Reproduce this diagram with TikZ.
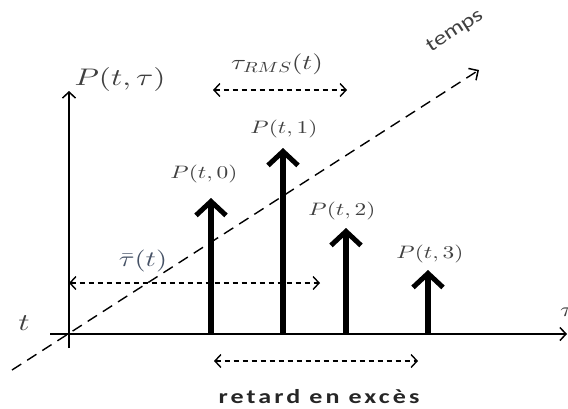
\documentclass[tikz,border=0pt]{standalone}
\usepackage{fontspec}
\DeclareFontShape{OML}{cmm}{m}{it}{<->cmmi10}{}
\DeclareFontShape{OT1}{cmr}{m}{n}{<->cmr10}{}
\DeclareFontShape{OMS}{cmsy}{m}{n}{<->cmsy10}{}
\newfontfamily\calib{Carlito}
\newfontfamily\calibsp[LetterSpace=12]{Carlito}
\usetikzlibrary{arrows.meta}
\definecolor{lab}{HTML}{404040}
\definecolor{labb}{HTML}{465266}
\newcommand{\wide}[1]{\scalebox{1.3}[1]{#1}}
\tikzset{
  axis/.style={line width=1.8pt, -{Straight Barb[length=6pt,width=13pt,line width=1.5pt]}},
  spike/.style={line width=6pt, -{Straight Barb[length=14pt,width=30pt,line width=5pt]}},
  dasharr/.style={line width=1.3pt, dash pattern=on 5pt off 4pt, {Straight Barb[length=6pt,width=13pt,line width=1.4pt]}-{Straight Barb[length=6pt,width=13pt,line width=1.4pt]}},
  lbl/.style={text=lab, inner sep=0pt, font=\fontsize{18}{20}\selectfont},
}
\begin{document}
\begin{tikzpicture}[x=1pt,y=-1pt]
\useasboundingbox (0,0) rectangle (568,408);
% coordinates
\coordinate (O) at (69,334);
\coordinate (ytop) at (69,91);
\coordinate (ybot) at (69,348);
\coordinate (xl) at (50,334);
\coordinate (xr) at (567,334);
\coordinate (d0) at (12,370);
\coordinate (d1) at (479,70);
% diagonal time axis
\draw[line width=1.4pt, dash pattern=on 11pt off 7pt, -{Straight Barb[length=7pt,width=14pt,line width=1.5pt]}] (d0) -- (d1);
\node[rotate=32.7, text=lab, inner sep=0pt, font=\calib\fontsize{20}{22}\selectfont] (temps) at (455,31) {\scalebox{1.25}[1]{temps}};
% axes
\draw[axis] (ybot) -- (ytop);
\draw[axis] (xl) -- (xr);
\node[lbl, font=\fontsize{24}{26}\selectfont] (Ptau) at (120,79) {\wide{$P(t,\tau)$}};
\node[lbl, font=\fontsize{24}{26}\selectfont] (tl) at (24,323) {\wide{$t$}};
\node[lbl, font=\fontsize{20}{22}\selectfont, anchor=west] (taur) at (560,312) {\wide{$\tau$}};
% spikes
\coordinate (b0) at (211,334); \coordinate (t0) at (211,198);
\coordinate (b1) at (283,334); \coordinate (t1) at (283,148);
\coordinate (b2) at (346,334); \coordinate (t2) at (346,228);
\coordinate (b3) at (428,334); \coordinate (t3) at (428,270);
\draw[spike] (b0) -- (t0);
\draw[spike] (b1) -- (t1);
\draw[spike] (b2) -- (t2);
\draw[spike] (b3) -- (t3);
\node[lbl] (P0) at (204,174) {\wide{$P(t,0)$}};
\node[lbl] (P1) at (284,129) {\wide{$P(t,1)$}};
\node[lbl] (P2) at (342,211) {\wide{$P(t,2)$}};
\node[lbl] (P3) at (430,254) {\wide{$P(t,3)$}};
% tau RMS
\coordinate (r0) at (213,90); \coordinate (r1) at (347,90);
\draw[dasharr] (r0) -- (r1);
\node[lbl, font=\fontsize{21}{23}\selectfont] (trms) at (277,64) {\wide{$\tau_{RMS}(t)$}};
% tau bar
\coordinate (m0) at (69,283); \coordinate (m1) at (320,283);
\draw[dasharr] (m0) -- (m1);
\node[text=labb, inner sep=0pt, font=\fontsize{22}{24}\selectfont] (tbar) at (143,261) {\wide{$\bar{\tau}(t)$}};
% retard
\coordinate (e0) at (214,361); \coordinate (e1) at (418,361);
\draw[dasharr] (e0) -- (e1);
\node[inner sep=0pt, text=black!85, font=\calibsp\bfseries\fontsize{20}{22}\selectfont] (ret) at (319,397) {\wide{retard en exc\`es}};
\end{tikzpicture}
\end{document}
